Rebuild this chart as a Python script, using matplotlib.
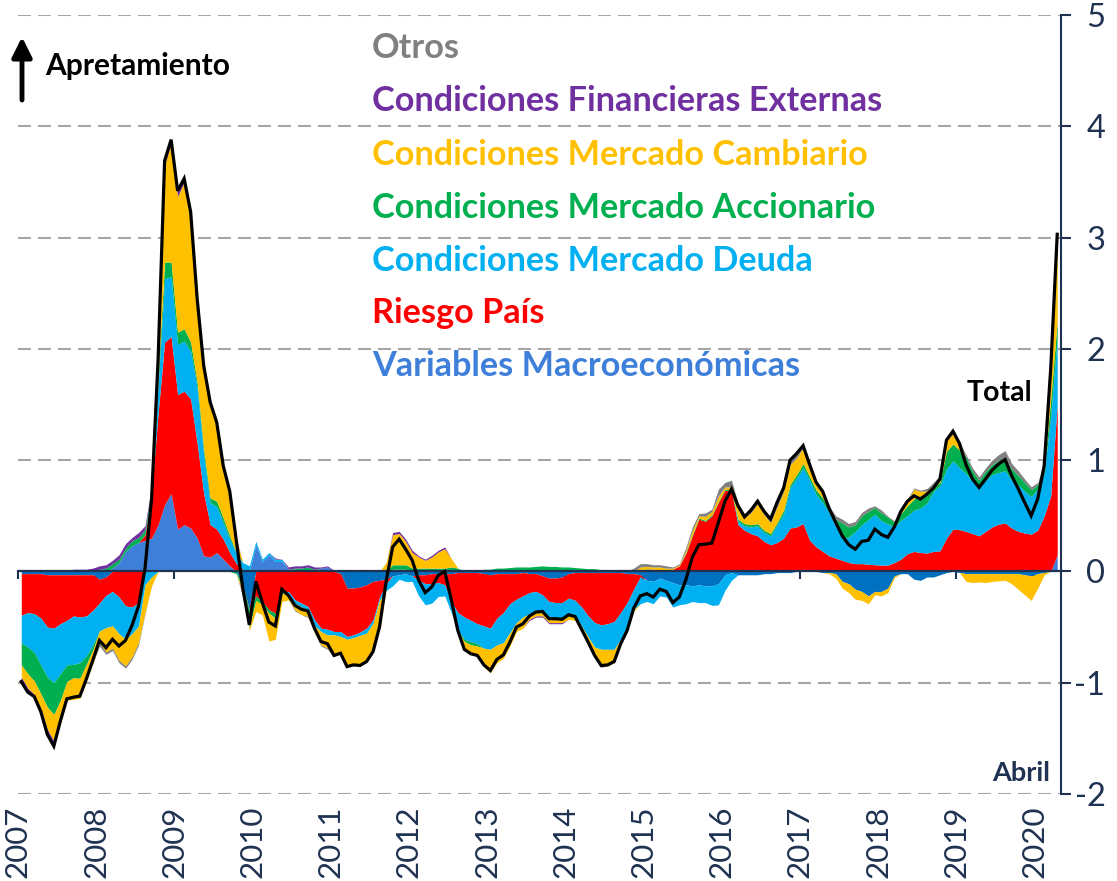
import numpy as np
import pandas as pd
import matplotlib
matplotlib.use("Agg")
import matplotlib.pyplot as plt
from matplotlib.transforms import blended_transform_factory

plt.rcParams['font.family'] = ['Lato', 'DejaVu Sans']
plt.rcParams['axes.unicode_minus'] = False

# monthly contributions, Jan 2007 - Apr 2020 (one row per year)
macro = [
    -0.02, -0.02, -0.02, -0.02, -0.03, -0.03, -0.03, -0.03, -0.03, -0.03, -0.03, -0.03,
    -0.07, -0.05, 0.03, 0.08, 0.18, 0.23, 0.26, 0.28, 0.30, 0.42, 0.60, 0.70,
    0.38, 0.42, 0.39, 0.30, 0.14, 0.13, 0.17, 0.11, 0.05, 0.00, -0.12, -0.34,
    0.24, 0.09, 0.15, 0.09, 0.09, 0.02, 0.02, 0.01, 0.02, 0.01, 0.03, 0.04,
    0.00, -0.02, -0.15, -0.15, -0.14, -0.12, -0.09, -0.08, -0.07, -0.04, -0.03, -0.02,
    -0.04, -0.03, -0.03, -0.02, -0.02, -0.02, -0.02, -0.01, -0.01, -0.01, -0.01, -0.02,
    -0.03, -0.02, -0.02, -0.02, -0.02, -0.01, -0.02, -0.02, -0.04, -0.06, -0.06, -0.05,
    -0.02, -0.01, -0.01, -0.01, -0.01, -0.01, -0.01, -0.01, -0.01, -0.02, -0.02, -0.03,
    -0.08, -0.09, -0.06, -0.08, -0.10, -0.12, -0.12, -0.13, -0.12, -0.13, -0.13, -0.11,
    -0.03, -0.01, -0.03, -0.03, -0.03, -0.03, -0.02, -0.02, -0.01, -0.01, -0.01, 0.00,
    0.02, 0.00, 0.00, -0.01, -0.01, -0.02, -0.09, -0.11, -0.16, -0.18, -0.22, -0.18,
    -0.18, -0.15, -0.04, -0.02, -0.02, -0.07, -0.08, -0.05, -0.05, -0.03, -0.01, 0.00,
    -0.01, -0.02, -0.02, -0.02, -0.02, -0.02, -0.02, -0.02, -0.02, -0.02, -0.03, -0.04,
    -0.02, -0.01, 0.00, 0.15,
]
riesgo = [
    -0.375, -0.35, -0.36, -0.40, -0.47, -0.48, -0.44, -0.41, -0.37, -0.38, -0.37, -0.32,
    -0.215, -0.165, -0.18, -0.23, -0.31, -0.32, -0.28, 0.05, 0.40, 1.00, 1.46, 1.41,
    1.21, 1.20, 1.16, 0.85, 0.56, 0.29, 0.21, 0.18, 0.12, 0.07, 0.02, -0.01,
    -0.22, -0.27, -0.345, -0.375, -0.18, -0.18, -0.255, -0.285, -0.315, -0.435, -0.51, -0.52,
    -0.54, -0.52, -0.435, -0.42, -0.405, -0.39, -0.345, -0.15, -0.04, 0.02, 0.02, 0.02,
    0.00, -0.05, -0.08, -0.09, -0.08, -0.10, -0.25, -0.36, -0.40, -0.43, -0.46, -0.47,
    -0.48, -0.40, -0.35, -0.27, -0.23, -0.21, -0.17, -0.16, -0.17, -0.21, -0.22, -0.23,
    -0.22, -0.25, -0.31, -0.39, -0.45, -0.47, -0.46, -0.44, -0.36, -0.26, -0.14, -0.02,
    0.02, 0.02, 0.015, 0.01, 0.02, 0.05, 0.16, 0.32, 0.47, 0.45, 0.50, 0.62,
    0.73, 0.72, 0.42, 0.37, 0.34, 0.32, 0.27, 0.24, 0.26, 0.30, 0.39, 0.40,
    0.41, 0.28, 0.22, 0.18, 0.14, 0.12, 0.10, 0.08, 0.07, 0.07, 0.065, 0.06,
    0.057, 0.057, 0.08, 0.11, 0.16, 0.18, 0.17, 0.165, 0.18, 0.185, 0.30, 0.38,
    0.375, 0.36, 0.34, 0.32, 0.36, 0.40, 0.425, 0.435, 0.39, 0.36, 0.345, 0.335,
    0.37, 0.50, 0.68, 1.35,
]
deuda = [
    -0.245, -0.31, -0.35, -0.42, -0.45, -0.49, -0.45, -0.40, -0.435, -0.41, -0.36, -0.31,
    -0.25, -0.29, -0.31, -0.33, -0.30, -0.24, -0.21, -0.12, -0.05, 0.25, 0.57, 0.54,
    0.45, 0.45, 0.43, 0.50, 0.35, 0.20, 0.20, 0.15, 0.12, 0.10, 0.06, 0.05,
    0.03, 0.02, 0.02, 0.02, 0.02, -0.03, -0.03, -0.035, -0.03, -0.055, -0.03, -0.05,
    -0.03, -0.045, -0.025, -0.025, -0.03, -0.045, -0.03, -0.03, -0.06, -0.09, -0.04, -0.07,
    -0.05, -0.14, -0.19, -0.175, -0.125, -0.10, -0.10, -0.16, -0.20, -0.19, -0.18, -0.20,
    -0.19, -0.24, -0.27, -0.26, -0.21, -0.19, -0.19, -0.19, -0.16, -0.15, -0.15, -0.15,
    -0.16, -0.14, -0.17, -0.19, -0.22, -0.22, -0.23, -0.25, -0.24, -0.22, -0.18, -0.24,
    -0.19, -0.20, -0.16, -0.15, -0.22, -0.18, -0.17, -0.14, -0.16, -0.15, -0.175, -0.19,
    -0.14, -0.07, 0.03, 0.04, 0.06, 0.09, 0.08, 0.08, 0.16, 0.22, 0.36, 0.44,
    0.50, 0.54, 0.47, 0.44, 0.385, 0.29, 0.19, 0.23, 0.29, 0.35, 0.40, 0.455,
    0.40, 0.37, 0.32, 0.35, 0.34, 0.37, 0.40, 0.45, 0.54, 0.585, 0.62, 0.615,
    0.555, 0.52, 0.47, 0.45, 0.46, 0.47, 0.465, 0.47, 0.43, 0.42, 0.375, 0.34,
    0.37, 0.38, 0.72, 0.60,
]
accion = [
    -0.20, -0.24, -0.255, -0.26, -0.27, -0.285, -0.24, -0.15, -0.12, -0.14, -0.075, -0.045,
    0.02, 0.03, 0.04, 0.03, 0.03, 0.045, 0.045, 0.05, 0.03, 0.08, 0.15, 0.13,
    0.11, 0.11, 0.08, 0.05, 0.05, 0.04, 0.05, 0.04, 0.03, -0.02, -0.04, -0.16,
    -0.04, -0.03, -0.03, -0.045, -0.02, 0.00, 0.01, 0.02, 0.02, 0.01, 0.00, 0.00,
    0.00, 0.00, 0.00, 0.00, 0.00, 0.00, 0.00, 0.00, 0.00, 0.04, 0.04, 0.04,
    0.03, 0.03, 0.03, 0.03, 0.03, 0.03, 0.04, 0.03, -0.02, -0.03, -0.02, 0.02,
    0.02, 0.03, 0.03, 0.035, 0.04, 0.04, 0.04, 0.045, 0.05, 0.045, 0.045, 0.04,
    0.04, 0.035, 0.03, 0.025, 0.025, 0.015, 0.01, 0.01, 0.01, 0.00, 0.00, 0.00,
    0.005, 0.00, 0.00, 0.00, 0.00, 0.00, 0.01, 0.01, 0.01, 0.01, 0.01, 0.01,
    0.01, 0.01, 0.02, 0.02, 0.02, 0.02, 0.02, 0.02, 0.02, 0.03, 0.03, 0.03,
    0.04, 0.03, 0.04, 0.04, 0.03, 0.06, 0.145, 0.09, 0.06, 0.08, 0.075, 0.06,
    0.07, 0.06, 0.045, 0.06, 0.09, 0.10, 0.11, 0.08, 0.04, 0.03, 0.16, 0.15,
    0.16, 0.15, 0.09, 0.05, 0.08, 0.09, 0.11, 0.12, 0.10, 0.085, 0.08, 0.06,
    0.04, 0.05, 0.15, 0.15,
]
cambio = [
    -0.11, -0.13, -0.12, -0.13, -0.20, -0.24, -0.165, -0.165, -0.195, -0.18, -0.15, -0.12,
    -0.105, -0.22, -0.20, -0.24, -0.24, -0.21, -0.15, -0.25, -0.08, 0.12, 0.87, 1.07,
    1.22, 1.32, 1.15, 0.73, 0.73, 0.84, 0.69, 0.45, 0.38, 0.12, -0.05, -0.02,
    -0.10, -0.09, -0.25, -0.19, -0.07, -0.045, -0.06, -0.07, -0.06, -0.06, -0.12, -0.12,
    -0.195, -0.15, -0.245, -0.245, -0.27, -0.255, -0.255, -0.235, 0.08, 0.27, 0.28, 0.21,
    0.14, 0.10, 0.07, 0.10, 0.145, 0.175, 0.075, -0.02, -0.07, -0.08, -0.085, -0.17,
    -0.21, -0.16, -0.14, -0.12, -0.08, -0.10, -0.05, -0.03, -0.03, -0.04, -0.03, -0.03,
    -0.03, -0.04, -0.06, -0.07, -0.10, -0.15, -0.15, -0.12, -0.05, -0.03, -0.02, 0.04,
    0.02, 0.02, 0.025, 0.02, 0.01, 0.01, 0.02, 0.04, 0.02, 0.035, 0.03, 0.05,
    0.02, 0.03, 0.10, 0.05, 0.11, 0.18, 0.14, 0.10, 0.14, 0.17, 0.18, 0.15,
    0.14, 0.09, 0.05, 0.04, -0.01, -0.04, -0.06, -0.08, -0.09, -0.08, -0.07, -0.03,
    -0.04, -0.04, -0.015, 0.02, 0.04, 0.09, 0.04, 0.03, 0.02, 0.04, 0.10, 0.09,
    0.05, -0.07, -0.08, -0.075, -0.08, -0.07, -0.065, -0.06, -0.09, -0.14, -0.18, -0.22,
    -0.13, -0.02, 0.22, 0.70,
]
fin_ext = [
    -0.04, -0.035, -0.02, -0.03, -0.045, -0.045, -0.02, 0.01, 0.02, 0.02, 0.02, 0.03,
    0.03, 0.03, 0.03, 0.04, 0.04, 0.03, 0.045, 0.03, 0.03, 0.03, 0.04, 0.03,
    0.05, 0.03, 0.02, 0.02, 0.02, 0.02, 0.02, 0.02, 0.02, 0.01, -0.01, 0.00,
    0.00, 0.00, 0.00, 0.01, 0.00, 0.02, 0.02, 0.02, 0.02, 0.02, 0.01, 0.01,
    0.01, 0.00, 0.00, 0.00, 0.00, 0.00, 0.00, 0.00, 0.00, 0.02, 0.02, 0.02,
    0.02, 0.01, 0.01, 0.015, 0.015, 0.015, 0.00, 0.00, 0.00, 0.00, 0.00, 0.00,
    0.00, 0.00, 0.00, 0.00, 0.00, 0.00, -0.01, -0.01, -0.01, -0.01, -0.01, -0.01,
    0.00, 0.00, 0.00, 0.00, 0.00, -0.01, 0.00, 0.00, 0.00, 0.00, 0.01, 0.00,
    0.00, 0.00, 0.00, 0.00, 0.00, 0.00, 0.00, 0.00, 0.00, 0.00, 0.00, 0.01,
    0.00, 0.00, 0.00, 0.00, 0.00, 0.00, 0.00, 0.00, 0.00, 0.00, 0.00, 0.00,
    0.00, 0.00, 0.00, 0.00, 0.00, 0.00, 0.00, 0.00, 0.00, 0.00, 0.00, 0.00,
    0.00, 0.00, 0.00, 0.00, 0.00, 0.00, 0.00, 0.00, 0.00, 0.00, 0.00, 0.00,
    0.00, 0.00, 0.00, 0.00, 0.00, 0.00, 0.00, 0.00, 0.00, 0.00, 0.00, 0.00,
    0.00, 0.03, 0.03, 0.05,
]
otros = [
    0.00, 0.00, 0.00, 0.00, 0.00, 0.00, 0.00, 0.00, 0.00, 0.00, 0.00, 0.00,
    -0.03, -0.02, -0.02, -0.02, -0.02, -0.02, -0.02, -0.01, 0.02, 0.00, 0.00, 0.00,
    0.00, 0.00, 0.00, 0.00, 0.00, 0.00, 0.00, 0.00, 0.00, 0.00, -0.01, 0.00,
    0.00, 0.00, 0.00, 0.00, 0.00, 0.00, -0.01, 0.00, -0.01, 0.00, -0.01, -0.01,
    0.00, 0.00, 0.00, 0.00, 0.00, 0.00, 0.00, 0.00, 0.00, 0.00, 0.00, 0.00,
    0.00, 0.00, 0.00, 0.00, 0.00, 0.00, 0.00, -0.01, 0.00, 0.00, 0.00, 0.00,
    0.00, 0.00, 0.00, 0.00, 0.00, 0.00, 0.00, 0.00, 0.00, 0.00, 0.00, 0.00,
    0.00, 0.00, 0.00, 0.00, 0.00, 0.00, 0.00, 0.00, 0.00, 0.00, 0.02, 0.03,
    0.025, 0.02, 0.02, 0.02, 0.01, 0.01, 0.025, 0.03, 0.02, 0.03, 0.02, 0.05,
    0.04, 0.06, 0.05, 0.04, 0.05, 0.05, 0.05, 0.05, 0.05, 0.04, 0.05, 0.04,
    0.02, 0.02, 0.02, 0.03, 0.03, 0.03, 0.035, 0.03, 0.03, 0.03, 0.03, 0.015,
    0.025, 0.01, 0.01, 0.02, 0.02, 0.01, 0.01, 0.02, 0.02, 0.02, 0.01, 0.025,
    0.02, 0.02, 0.03, 0.03, 0.03, 0.04, 0.05, 0.06, 0.05, 0.04, 0.03, 0.025,
    0.02, 0.02, 0.02, 0.03,
]

years = list(range(2007, 2021))
yticks = list(range(-2, 6))

names = ['Variables Macroeconómicas', 'Riesgo País', 'Condiciones Mercado Deuda',
         'Condiciones Mercado Accionario', 'Condiciones Mercado Cambiario',
         'Condiciones Financieras Externas', 'Otros']
colors = ['#3E7FD9', '#FF0000', '#00B0F0', '#00B050', '#FFC000', '#7030A0', '#808080']
macro_neg_color = '#0070C0'
navy = '#1F3251'

months = pd.date_range('2007-01-01', periods=len(macro), freq='MS')
x = months.year + (months.month - 0.5) / 12.0

W, H = 1117, 881
fig = plt.figure(figsize=(W / 100, H / 100), dpi=100)
ax = fig.add_axes([18 / W, 1 - 794 / H, (1061 - 18) / W, (794 - 15) / H])

pos_base = np.zeros(len(x))
neg_base = np.zeros(len(x))
for vals, col in zip([macro, riesgo, deuda, accion, cambio, fin_ext, otros], colors):
    v = np.array(vals)
    p = np.clip(v, 0, None)
    q = np.clip(v, None, 0)
    ax.fill_between(x, pos_base, pos_base + p, color=col, lw=0, zorder=1)
    ncol = macro_neg_color if col == colors[0] else col
    ax.fill_between(x, neg_base, neg_base + q, color=ncol, lw=0, zorder=1)
    pos_base = pos_base + p
    neg_base = neg_base + q

total = pos_base + neg_base
ax.plot(x, total, color='black', lw=2.3, zorder=4, solid_joinstyle='miter')

ax.set_xlim(2007, 2020.34)
ax.set_ylim(-2, 5)
ax.set_yticks(yticks)
ax.set_xticks(years)
ax.set_xticklabels([])
ax.yaxis.tick_right()
ax.grid(axis='y', color='#A6A6A6', lw=1.5, ls=(0, (6.2, 3.4)), zorder=0)
ax.set_axisbelow(True)

for s in ['left', 'top']:
    ax.spines[s].set_visible(False)
ax.spines['right'].set_color(navy)
ax.spines['right'].set_linewidth(1.5)
ax.spines['bottom'].set_position(('data', 0))
ax.spines['bottom'].set_color(navy)
ax.spines['bottom'].set_linewidth(1.6)
ax.spines['bottom'].set_zorder(3)
ax.tick_params(axis='y', colors=navy, labelsize=23.5, length=7, width=1.5,
               direction='out', pad=25)
for lbl in ax.get_yticklabels():
    lbl.set_horizontalalignment('right')
ax.tick_params(axis='x', colors=navy, length=6, width=1.5, direction='out')

# year labels sit at the foot of the figure
tr = blended_transform_factory(ax.transData, fig.transFigure)
for yr in years:
    ax.text(yr, 3 / H, str(yr), rotation=90, ha='center', va='bottom', transform=tr,
            fontsize=22.5, color=navy)

# legend as coloured labels
legend_y = [48, 101, 155, 208, 261, 313, 366]
for name, col, py in zip(names[::-1], colors[::-1], legend_y):
    fig.text(372 / W, 1 - py / H, name, color=col, fontsize=24.7, fontweight='bold',
             ha='left', va='center')

fig.text(45 / W, 1 - 66 / H, 'Apretamiento', fontsize=21.5, fontweight='bold',
         color='black', ha='left', va='center')
ax.annotate('', xy=(22 / W, 1 - 37 / H), xytext=(22 / W, 1 - 100 / H),
            xycoords='figure fraction', textcoords='figure fraction',
            arrowprops=dict(arrowstyle='-|>', color='black', lw=3.5,
                            mutation_scale=30, shrinkA=0, shrinkB=0))
fig.text(999 / W, 1 - 393 / H, 'Total', fontsize=20.5, fontweight='bold',
         color='black', ha='center', va='center')
fig.text(1050 / W, 1 - 773 / H, 'Abril', fontsize=19.5, fontweight='bold',
         color=navy, ha='right', va='center')

fig.savefig('out.png', dpi=100)
